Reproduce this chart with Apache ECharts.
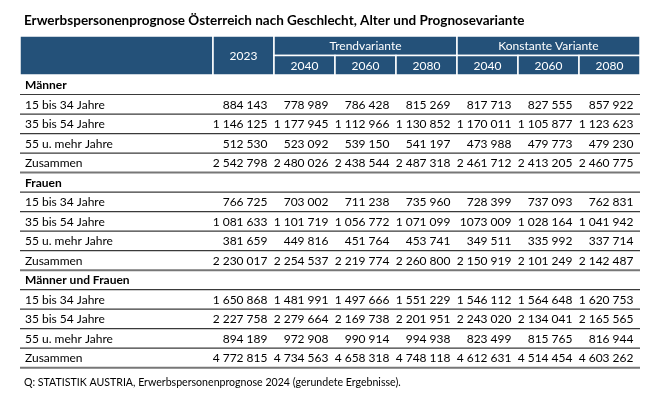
<!DOCTYPE html>
<html><head><meta charset="utf-8">
<script src="https://cdn.jsdelivr.net/npm/echarts@6/dist/echarts.min.js"></script>
<style>html,body{margin:0;padding:0;background:#fff}#c{width:661px;height:400px}</style>
</head><body><div id="c"></div>
<script>
const titleText = 'Erwerbspersonenprognose Österreich nach Geschlecht, Alter und Prognosevariante';
const sourceText = 'Q: STATISTIK AUSTRIA, Erwerbspersonenprognose 2024 (gerundete Ergebnisse).';
const groups = ['Männer', 'Frauen', 'Männer und Frauen'];
const ageRows = ['15 bis 34 Jahre', '35 bis 54 Jahre', '55 u. mehr Jahre', 'Zusammen'];
const baseYear = '2023';
const variants = ['Trendvariante', 'Konstante Variante'];
const forecastYears = ['2040', '2060', '2080'];

// values per column, order: Männer (4 rows), Frauen (4 rows), Männer und Frauen (4 rows)
const y2023     = [884143, 1146125, 512530, 2542798, 766725, 1081633, 381659, 2230017, 1650868, 2227758, 894189, 4772815];
const trend2040 = [778989, 1177945, 523092, 2480026, 703002, 1101719, 449816, 2254537, 1481991, 2279664, 972908, 4734563];
const trend2060 = [786428, 1112966, 539150, 2438544, 711238, 1056772, 451764, 2219774, 1497666, 2169738, 990914, 4658318];
const trend2080 = [815269, 1130852, 541197, 2487318, 735960, 1071099, 453741, 2260800, 1551229, 2201951, 994938, 4748118];
const konst2040 = [817713, 1170011, 473988, 2461712, 728399, 1073009, 349511, 2150919, 1546112, 2243020, 823499, 4612631];
const konst2060 = [827555, 1105877, 479773, 2413205, 737093, 1028164, 335992, 2101249, 1564648, 2134041, 815765, 4514454];
const konst2080 = [857922, 1123623, 479230, 2460775, 762831, 1041942, 337714, 2142487, 1620753, 2165565, 816944, 4603262];
// cells printed without the first thousands gap in the source: [column, value index]
const noFirstGap = [[4, 5]];

const columns = [y2023, trend2040, trend2060, trend2080, konst2040, konst2060, konst2080];

const FONT = 'Lato';
const BLUE = '#245179';
const XMIN = -3.164, XMAX = 7;

function fmt(v, compactFirst) {
  const s = String(v);
  const parts = [];
  for (let i = s.length; i > 0; i -= 3) parts.unshift(s.slice(Math.max(0, i - 3), i));
  if (compactFirst && parts.length > 1) { parts[1] = parts[0] + parts[1]; parts.shift(); }
  return parts.join(' ');
}

// build rows
const rows = [];
groups.forEach(g => {
  rows.push({ label: g, bold: true });
  ageRows.forEach(a => rows.push({ label: a, bold: false }));
});
const rowCats = rows.map((_, i) => String(i));

// value cells
const valueData = [];
columns.forEach((col, c) => {
  col.forEach((v, k) => {
    const gi = Math.floor(k / 4), ai = k % 4;
    const r = gi * 5 + 1 + ai;
    const compact = noFirstGap.some(p => p[0] === c && p[1] === k) ? 1 : 0;
    valueData.push([c + 1, r, v, compact]);
  });
});
const labelData = rows.map((row, i) => [XMIN, i, row.label, row.bold ? 1 : 0]);
const lineData = rows.map((row, i) => [XMIN, i]);

// header cells: [x0, x1, row0, row1, text]
const headerData = [
  [XMIN, 0, 0, 1, ''],
  [0, 1, 0, 1, baseYear],
  [1, 4, 0, 0, variants[0]],
  [4, 7, 0, 0, variants[1]]
];
forecastYears.forEach((y, i) => headerData.push([1 + i, 2 + i, 1, 1, y]));
forecastYears.forEach((y, i) => headerData.push([4 + i, 5 + i, 1, 1, y]));

const chart = echarts.init(document.getElementById('c'));
chart.setOption({
  animation: false,
  title: [
    { text: titleText, left: 19, top: 9, textStyle: { fontFamily: FONT, fontSize: 13.5, fontWeight: 'bold', color: '#000' } },
    { text: sourceText, left: 19, top: 372, textStyle: { fontFamily: FONT, fontSize: 10.6, fontWeight: 'normal', color: '#000' } }
  ],
  grid: [
    { left: 20, top: 75, width: 620, height: 292.7 },
    { left: 20, top: 36, width: 620, height: 39 }
  ],
  xAxis: [
    { type: 'value', gridIndex: 0, min: XMIN, max: XMAX, show: false },
    { type: 'value', gridIndex: 1, min: XMIN, max: XMAX, show: false }
  ],
  yAxis: [
    { type: 'category', gridIndex: 0, data: rowCats, inverse: true, show: false },
    { type: 'category', gridIndex: 1, data: ['0', '1'], inverse: true, show: false }
  ],
  series: [
    {
      type: 'custom', xAxisIndex: 1, yAxisIndex: 1, data: headerData,
      encode: { x: [0, 1], y: [2, 3] },
      renderItem(params, api) {
        const x0 = api.value(0), x1 = api.value(1), r0 = api.value(2), r1 = api.value(3);
        const t = headerData[params.dataIndex][4];
        const h = api.size([0, 1])[1];
        const p0 = api.coord([x0, r0]), p1 = api.coord([x1, r1]);
        const top = p0[1] - h / 2, bottom = p1[1] + h / 2;
        return {
          type: 'group', children: [
            { type: 'rect', shape: { x: p0[0], y: top, width: p1[0] - p0[0], height: bottom - top },
              style: { fill: BLUE, stroke: '#fff', lineWidth: 1.5 } },
            { type: 'text', x: (p0[0] + p1[0]) / 2, y: (top + bottom) / 2 + 0.5,
              style: { text: t, align: 'center', verticalAlign: 'middle', fill: '#fff', fontFamily: FONT, fontSize: 12 } }
          ]
        };
      }
    },
    {
      type: 'custom', xAxisIndex: 0, yAxisIndex: 0, data: lineData,
      encode: { x: 0, y: 1 },
      renderItem(params, api) {
        const r = api.value(1);
        const h = api.size([0, 1])[1];
        const p0 = api.coord([XMIN, r]), p1 = api.coord([XMAX, r]);
        const y = p0[1] + h / 2;
        const isTotal = rows[r].label === ageRows[ageRows.length - 1];
        return { type: 'line', shape: { x1: p0[0], y1: y, x2: p1[0], y2: y },
          style: { stroke: isTotal ? '#777' : '#3a3a3a', lineWidth: isTotal ? 2 : 1.2 } };
      }
    },
    {
      type: 'custom', xAxisIndex: 0, yAxisIndex: 0, data: labelData,
      encode: { x: 0, y: 1 },
      renderItem(params, api) {
        const d = labelData[params.dataIndex];
        const p = api.coord([api.value(0), api.value(1)]);
        return { type: 'text', x: p[0] + 5, y: p[1] + 0.5,
          style: { text: d[2], align: 'left', verticalAlign: 'middle', fill: '#000', fontFamily: FONT, fontSize: 12, fontWeight: d[3] ? 'bold' : 'normal' } };
      }
    },
    {
      type: 'custom', xAxisIndex: 0, yAxisIndex: 0, data: valueData,
      encode: { x: 0, y: 1 },
      renderItem(params, api) {
        const p = api.coord([api.value(0), api.value(1)]);
        return { type: 'text', x: p[0] - 6.5, y: p[1] + 0.5,
          style: { text: fmt(api.value(2), api.value(3)), align: 'right', verticalAlign: 'middle', fill: '#000', fontFamily: FONT, fontSize: 12 } };
      }
    }
  ]
});
</script></body></html>
